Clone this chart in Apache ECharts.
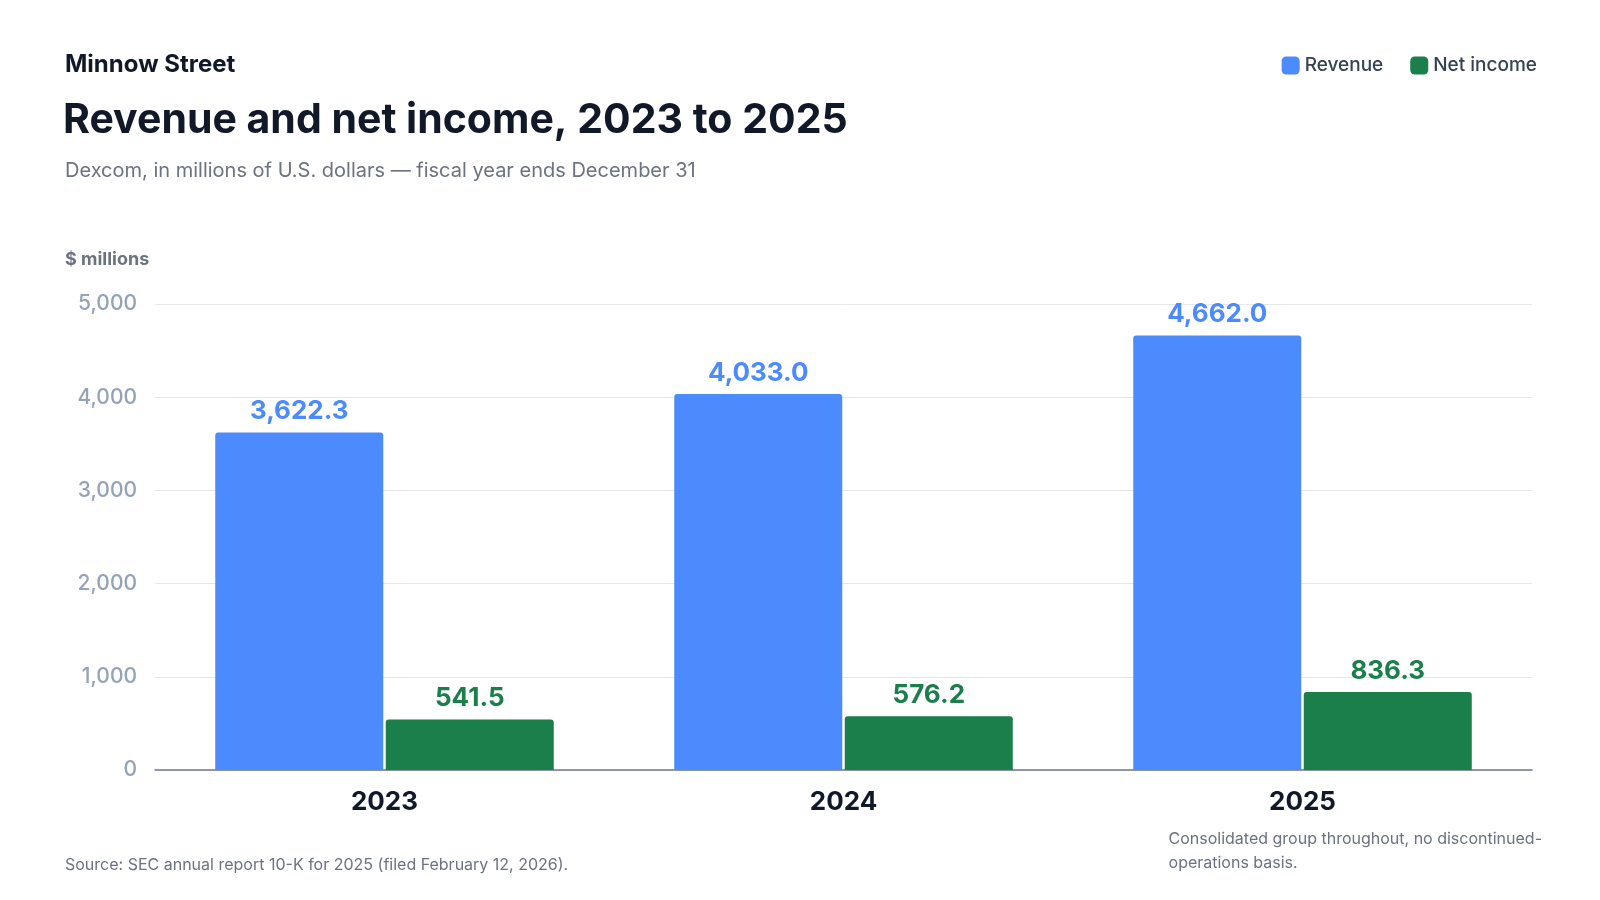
<!DOCTYPE html>
<html><head><meta charset="utf-8">
<script src="https://cdn.jsdelivr.net/npm/echarts@6/dist/echarts.min.js"></script>
<style>html,body{margin:0;background:#fff}#c{width:1600px;height:900px}</style>
</head><body><div id="c"></div>
<script>
const categories = ['2023', '2024', '2025'];
const revenue = [3622.3, 4033.0, 4662.0];
const netIncome = [541.5, 576.2, 836.3];
const yTicks = [0, 1000, 2000, 3000, 4000, 5000];

const F = 'Inter, "Noto Sans", sans-serif';
const fmt = v => v.toLocaleString('en-US', {minimumFractionDigits: 1, maximumFractionDigits: 1});
const chart = echarts.init(document.getElementById('c'));
chart.setOption({
  animation: false,
  textStyle: {fontFamily: F},
  title: [
    {text: 'Minnow Street', left: 60, top: 48, textStyle: {fontFamily: F, fontSize: 24, fontWeight: 'bold', color: '#111827'}},
    {text: 'Revenue and net income, 2023 to 2025', left: 58, top: 95, textStyle: {fontFamily: F, fontSize: 41, fontWeight: 'bold', color: '#111827'}},
    {text: 'Dexcom, in millions of U.S. dollars — fiscal year ends December 31', left: 60, top: 156, textStyle: {fontFamily: F, fontSize: 20, fontWeight: 'normal', color: '#6b7280'}},
    {text: '$ millions', left: 60, top: 246, textStyle: {fontFamily: F, fontSize: 18, fontWeight: 'bold', color: '#6b7280'}},
    {text: 'Source: SEC annual report 10-K for 2025 (filed February 12, 2026).', left: 60, top: 852, textStyle: {fontFamily: F, fontSize: 16, fontWeight: 'normal', color: '#6b7280'}}
  ],
  graphic: [
    {type: 'text', right: 58, top: 827, style: {text: 'Consolidated group throughout, no discontinued-\noperations basis.', align: 'right', fontFamily: F, fontSize: 16, lineHeight: 24, fill: '#6b7280'}}
  ],
  legend: {
    right: 58, top: 51, itemWidth: 18, itemHeight: 18, itemGap: 27,
    icon: 'roundRect',
    textStyle: {fontFamily: F, fontSize: 19, color: '#374151', fontWeight: 500},
    data: ['Revenue', 'Net income']
  },
  grid: {left: 155, right: 68, top: 304, bottom: 130},
  xAxis: {
    type: 'category', data: categories,
    axisLine: {lineStyle: {color: '#6b7a90', width: 1.5}},
    axisTick: {show: false},
    axisLabel: {fontFamily: F, fontSize: 26, fontWeight: 'bold', color: '#111827', margin: 19}
  },
  yAxis: {
    type: 'value', min: 0, max: 5000, interval: 1000,
    axisLabel: {fontFamily: F, fontSize: 21, fontWeight: 500, color: '#94a3b8', margin: 18, formatter: v => v.toLocaleString('en-US')},
    splitLine: {lineStyle: {color: '#e5e7eb'}},
    axisLine: {show: false}, axisTick: {show: false}
  },
  series: [
    {name: 'Revenue', type: 'bar', data: revenue, barWidth: 168, barGap: '1.5%',
     itemStyle: {color: '#4b8bfe', borderRadius: [3, 3, 0, 0]},
     label: {show: true, position: 'top', distance: 8, formatter: p => fmt(p.value), fontFamily: F, fontSize: 26, fontWeight: 'bold', color: '#4b8bfe'}},
    {name: 'Net income', type: 'bar', data: netIncome, barWidth: 168,
     itemStyle: {color: '#1a7f4b', borderRadius: [3, 3, 0, 0]},
     label: {show: true, position: 'top', distance: 8, formatter: p => fmt(p.value), fontFamily: F, fontSize: 26, fontWeight: 'bold', color: '#1a7f4b'}}
  ]
});
</script></body></html>
